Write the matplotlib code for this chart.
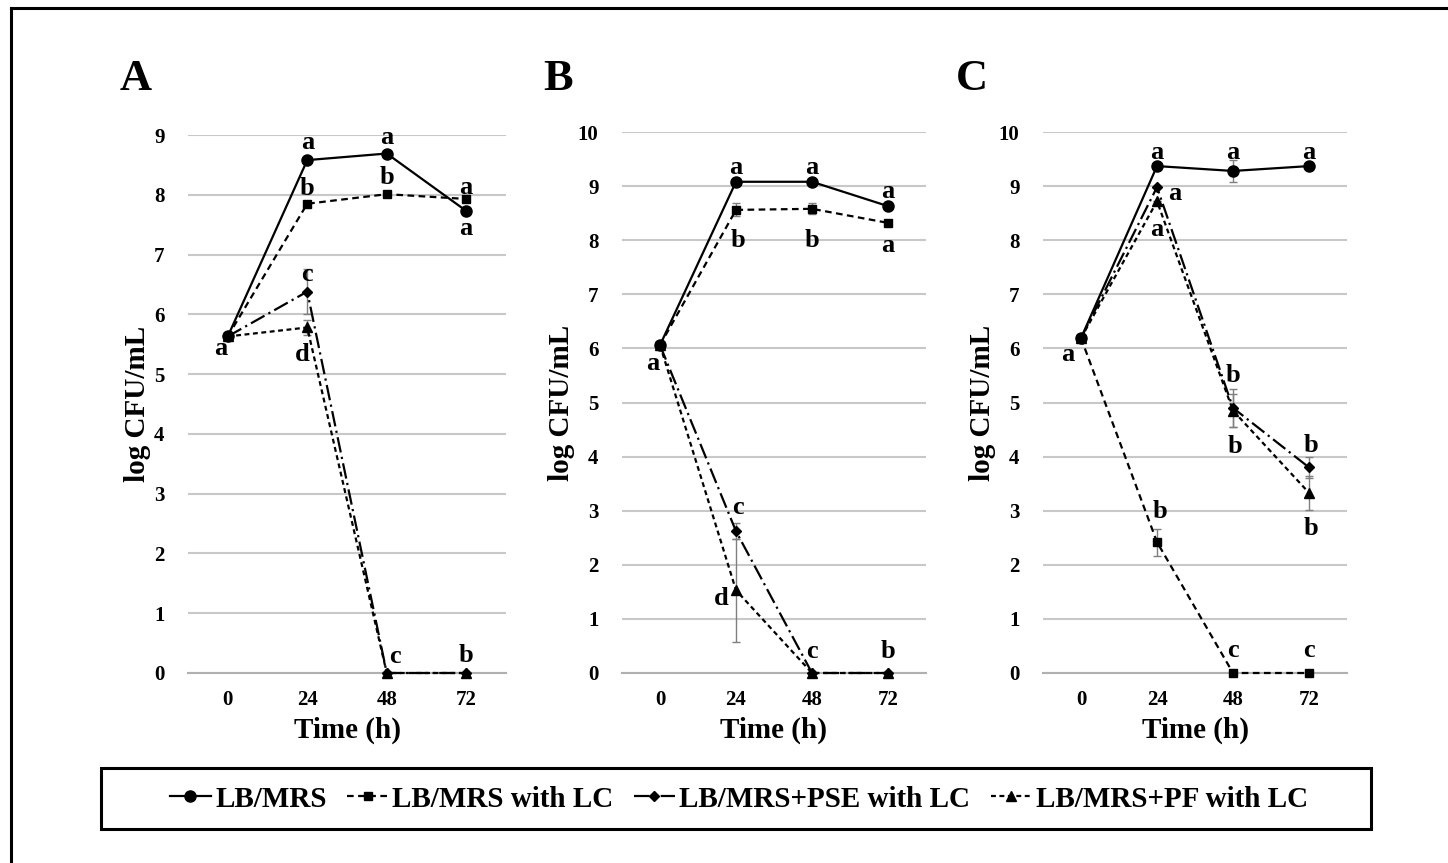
import matplotlib
matplotlib.use("Agg")
import matplotlib.pyplot as plt
from matplotlib.lines import Line2D
from matplotlib.patches import Rectangle

plt.rcParams['font.family'] = ['Liberation Serif', 'DejaVu Serif']
plt.rcParams['font.weight'] = 'bold'

times = ['0', '24', '48', '72']
series_names = ['LB/MRS', 'LB/MRS with LC', 'LB/MRS+PSE with LC', 'LB/MRS+PF with LC']

# panel A
a_lbmrs = [5.63, 8.58, 8.69, 7.73]
a_lc = [5.63, 7.85, 8.01, 7.93]
a_pse = [5.63, 6.38, 0, 0]
a_pf = [5.63, 5.78, 0, 0]
a_pse_err = [0, 0.38, 0, 0]
a_pf_err = [0, 0.12, 0, 0]

# panel B
b_lbmrs = [6.06, 9.08, 9.08, 8.63]
b_lc = [6.06, 8.56, 8.58, 8.32]
b_pse = [6.06, 2.62, 0, 0]
b_pf = [6.06, 1.53, 0, 0]
b_lc_err = [0, 0.12, 0.1, 0]
b_pse_err = [0, 0.15, 0, 0]
b_pf_err = [0, 0.95, 0, 0]

# panel C
c_lbmrs = [6.19, 9.37, 9.28, 9.37]
c_lc = [6.19, 2.42, 0, 0]
c_pse = [6.19, 8.98, 4.9, 3.8]
c_pf = [6.19, 8.72, 4.85, 3.33]
c_lbmrs_err = [0, 0, 0.2, 0]
c_lc_err = [0, 0.25, 0, 0]
c_pse_err = [0, 0, 0.35, 0.2]
c_pf_err = [0, 0, 0.3, 0.32]

# significance letters: (category index, y, letter)
a_letters = [(-0.09, 5.43, 'a'), (1, 8.88, 'a'), (1, 8.11, 'b'), (1, 6.66, 'c'), (0.94, 5.32, 'd'),
             (2, 8.96, 'a'), (2, 8.29, 'b'), (2.1, 0.27, 'c'),
             (3, 8.13, 'a'), (3, 7.44, 'a'), (3, 0.3, 'b')]
b_letters = [(-0.1, 5.73, 'a'), (1, 9.35, 'a'), (1.03, 8.0, 'b'), (1.02, 3.05, 'c'), (0.8, 1.38, 'd'),
             (2, 9.35, 'a'), (2, 8.0, 'b'), (2, 0.39, 'c'),
             (3, 8.9, 'a'), (3, 7.9, 'a'), (3, 0.39, 'b')]
c_letters = [(-0.18, 5.88, 'a'), (1, 9.63, 'a'), (1.24, 8.87, 'a'), (1, 8.19, 'a'), (1.04, 2.98, 'b'),
             (2, 9.63, 'a'), (2, 5.5, 'b'), (2.02, 4.18, 'b'), (2, 0.42, 'c'),
             (3, 9.63, 'a'), (3.02, 4.21, 'b'), (3.02, 2.68, 'b'), (3, 0.42, 'c')]

W, H = 1448, 863
fig = plt.figure(figsize=(W / 100, H / 100), dpi=100)

styles = [
    dict(ls='-', marker='o', ms=8),
    dict(ls=(0, (3, 2)), marker='s', ms=6),
    dict(ls=(0, (7, 2, 1, 2)), marker='D', ms=5.5),
    dict(ls=(0, (2.2, 1.6)), marker='^', ms=7.5),
]


def px_axes(left, top, right, bottom):
    return fig.add_axes([left / W, 1 - bottom / H, (right - left) / W, (bottom - top) / H])


def draw_panel(ax, vals, errs, letters, ymax, tag, tag_x):
    x = list(range(len(times)))
    for v, e, st in zip(vals, errs, styles):
        if e is not None:
            ax.errorbar(x, v, yerr=e, fmt='none', ecolor='#7f7f7f', elinewidth=1,
                        capsize=3, capthick=1, zorder=2, clip_on=False)
        ax.plot(x, v, color='black', lw=1.6, mfc='black', mec='black',
                zorder=3, clip_on=False, **st)
    ax.set_xlim(-0.5, 3.5)
    ax.set_ylim(0, ymax)
    ax.set_yticks(range(0, ymax + 1))
    ax.set_xticks(x)
    ax.set_xticklabels(times)
    ax.grid(axis='y', color='#c8c8c8', lw=1.5)
    ax.set_axisbelow(True)
    for s in ['top', 'right', 'left']:
        ax.spines[s].set_visible(False)
    ax.spines['bottom'].set_color('#b0b0b0')
    ax.spines['bottom'].set_linewidth(1.5)
    ax.tick_params(axis='x', length=0, labelsize=15, pad=12)
    ax.tick_params(axis='y', length=0, labelsize=15, pad=17)
    for lab in ax.get_xticklabels() + ax.get_yticklabels():
        lab.set_fontweight('bold')
    ax.set_xlabel('Time (h)', fontsize=21, fontweight='bold', labelpad=5)
    ax.set_ylabel('log CFU/mL', fontsize=21, fontweight='bold', labelpad=2)
    for lx, ly, t in letters:
        ax.text(lx, ly, t, ha='center', va='center', fontsize=19, fontweight='bold', zorder=4)
    fig.text(tag_x / W, 1 - 79 / H, tag, fontsize=32, fontweight='bold', ha='center', va='center')


ax_a = px_axes(188, 135, 506, 673)
ax_b = px_axes(622, 132, 926, 673)
ax_c = px_axes(1043, 132, 1347, 673)

draw_panel(ax_a, [a_lbmrs, a_lc, a_pse, a_pf], [None, None, a_pse_err, a_pf_err],
           a_letters, 9, 'A', 136)
draw_panel(ax_b, [b_lbmrs, b_lc, b_pse, b_pf], [None, b_lc_err, b_pse_err, b_pf_err],
           b_letters, 10, 'B', 558)
draw_panel(ax_c, [c_lbmrs, c_lc, c_pse, c_pf], [c_lbmrs_err, c_lc_err, c_pse_err, c_pf_err],
           c_letters, 10, 'C', 972)

# legend
handles = [Line2D([0], [0], color='black', lw=1.6, mfc='black', mec='black', **st) for st in styles]
leg = fig.legend(handles, series_names, ncol=4, frameon=False, loc='center',
                 bbox_to_anchor=(739 / W, 1 - 799 / H), handlelength=1.4, handletextpad=0.15,
                 columnspacing=0.7, prop=dict(size=21, weight='bold'))

fig.patches.append(Rectangle((101 / W, 1 - 829 / H), (1371 - 101) / W, (829 - 768) / H,
                             transform=fig.transFigure, fill=False, lw=2.2, ec='black'))

# outer frame (only top and left edges visible)
fig.lines.append(Line2D([10.5 / W, 10.5 / W], [0, 1 - 8.5 / H], transform=fig.transFigure,
                        color='black', lw=2.2))
fig.lines.append(Line2D([10.5 / W, 1], [1 - 8.5 / H, 1 - 8.5 / H], transform=fig.transFigure,
                        color='black', lw=2.2))

fig.savefig('out.png', dpi=100)
